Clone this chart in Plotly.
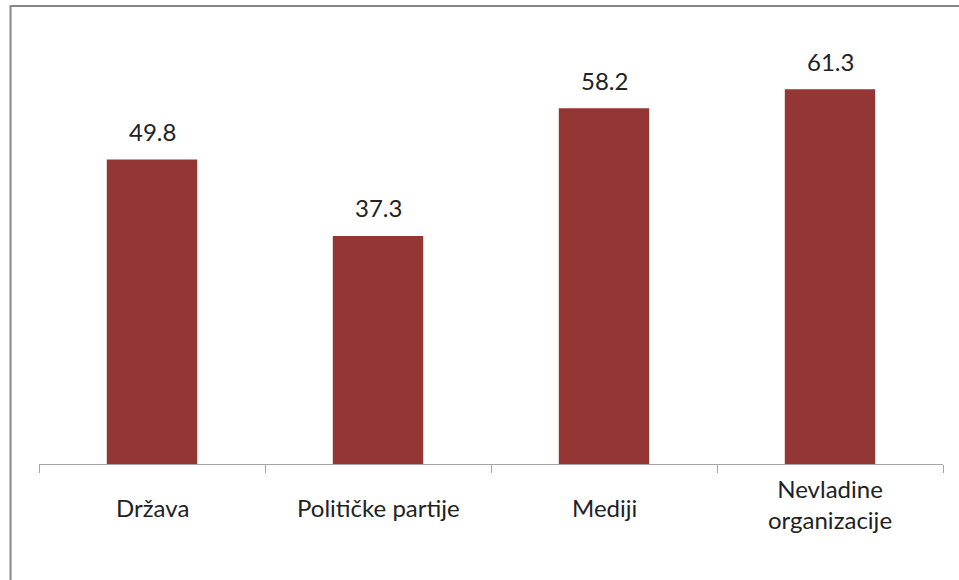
import plotly.graph_objects as go

# ---------------------------------------------------------------------------
# Data
# ---------------------------------------------------------------------------
categories = ["Država", "Političke partije", "Mediji", "Nevladine organizacije"]
tick_labels = ["Država", "Političke partije", "Mediji", "Nevladine<br>organizacije"]
values = [49.8, 37.3, 58.2, 61.3]

_COLOUR_BAR = "#943634"
_COLOUR_AXIS = "#A6A6A6"
_COLOUR_FRAME = "#878787"
_COLOUR_TEXT = "#222222"
_FONT = "Lato, 'Open Sans', sans-serif"
_SIZE = 24

fig = go.Figure()

fig.add_trace(
    go.Bar(
        x=categories,
        y=values,
        marker={"color": _COLOUR_BAR, "line": {"width": 0}},
        width=0.4,
        hoverinfo="x+y",
    )
)

# value labels above bars
for cat, val in zip(categories, values):
    fig.add_annotation(
        x=cat,
        y=val,
        text=f"{val:.1f}",
        showarrow=False,
        yanchor="middle",
        yshift=28,
        font={"family": _FONT, "size": _SIZE, "color": _COLOUR_TEXT},
    )

# category labels below the axis, vertically centred like the original
for cat, lab in zip(categories, tick_labels):
    two_lines = "<br>" in lab
    fig.add_annotation(
        x=cat,
        y=0,
        yref="paper",
        text=lab,
        showarrow=False,
        yanchor="middle",
        yshift=-40 if two_lines else -43,
        font={"family": _FONT, "size": _SIZE, "color": _COLOUR_TEXT},
    )

# chart frame (left and top edges visible, rest runs off the picture)
fig.add_shape(
    type="line", xref="paper", yref="paper",
    x0=-0.0315, x1=-0.0315, y0=-0.4, y1=1.072,
    line={"color": _COLOUR_FRAME, "width": 2},
)
fig.add_shape(
    type="line", xref="paper", yref="paper",
    x0=-0.0315, x1=1.2, y0=1.070, y1=1.070,
    line={"color": _COLOUR_FRAME, "width": 2},
)

fig.update_layout(
    width=959,
    height=580,
    margin={"l": 39, "r": 16, "t": 36, "b": 116},
    paper_bgcolor="white",
    plot_bgcolor="white",
    showlegend=False,
    font={"family": _FONT, "size": _SIZE, "color": _COLOUR_TEXT},
    xaxis={
        "type": "category",
        "showline": True,
        "linecolor": _COLOUR_AXIS,
        "linewidth": 1,
        "ticks": "outside",
        "tickson": "boundaries",
        "ticklen": 8,
        "tickcolor": _COLOUR_AXIS,
        "showticklabels": False,
        "showgrid": False,
        "zeroline": False,
    },
    yaxis={
        "range": [0, 70],
        "visible": False,
        "showgrid": False,
        "zeroline": False,
    },
)

# drop the default 8px body margin so the figure sits at the window's corner
fig.write_html(
    "out.html",
    config={"displayModeBar": False},
    post_script="document.body.style.margin = '0';",
)
